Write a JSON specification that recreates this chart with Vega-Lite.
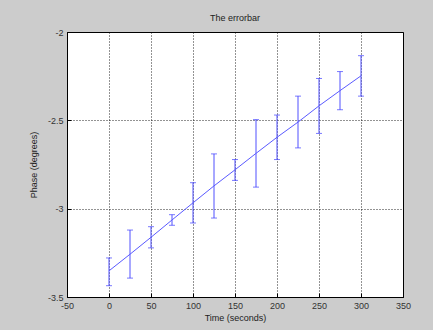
{
  "$schema": "https://vega.github.io/schema/vega-lite/v6.json",
  "autosize": "none",
  "width": 336,
  "height": 265,
  "padding": {"left": 67, "top": 32, "right": 30, "bottom": 33},
  "background": "#cccccc",
  "title": {"text": "The errorbar", "fontSize": 9, "fontWeight": "normal", "font": "Liberation Sans", "color": "#222222", "offset": 5},
  "data": {"values": [
    {"t": 0, "y": -3.352, "lo": -3.436, "hi": -3.279},
    {"t": 25, "y": -3.258, "lo": -3.393, "hi": -3.121},
    {"t": 50, "y": -3.162, "lo": -3.222, "hi": -3.102},
    {"t": 75, "y": -3.064, "lo": -3.094, "hi": -3.034},
    {"t": 100, "y": -2.967, "lo": -3.081, "hi": -2.853},
    {"t": 125, "y": -2.871, "lo": -3.053, "hi": -2.690},
    {"t": 150, "y": -2.780, "lo": -2.840, "hi": -2.722},
    {"t": 175, "y": -2.687, "lo": -2.878, "hi": -2.496},
    {"t": 200, "y": -2.596, "lo": -2.722, "hi": -2.470},
    {"t": 225, "y": -2.510, "lo": -2.656, "hi": -2.363},
    {"t": 250, "y": -2.418, "lo": -2.574, "hi": -2.263},
    {"t": 275, "y": -2.332, "lo": -2.440, "hi": -2.224},
    {"t": 300, "y": -2.248, "lo": -2.363, "hi": -2.134}
  ]},
  "encoding": {
    "x": {"field": "t", "type": "quantitative",
      "scale": {"domain": [-50, 350], "nice": false, "zero": false},
      "axis": {"title": "Time (seconds)", "values": [-50, 0, 50, 100, 150, 200, 250, 300, 350], "labelExpr": "replace(datum.label, '−', '-')"}}
  },
  "layer": [
    {
      "mark": {"type": "rule", "color": "#5050ff", "strokeWidth": 1},
      "encoding": {
        "y": {"field": "lo", "type": "quantitative",
          "scale": {"domain": [-3.5, -2], "nice": false, "zero": false},
          "axis": {"title": "Phase (degrees)", "values": [-3.5, -3, -2.5, -2], "format": "~g", "labelExpr": "replace(datum.label, '−', '-')"}},
        "y2": {"field": "hi"}
      }
    },
    {
      "mark": {"type": "tick", "orient": "horizontal", "color": "#4040ff", "size": 6, "thickness": 1},
      "encoding": {"y": {"field": "lo", "type": "quantitative"}}
    },
    {
      "mark": {"type": "tick", "orient": "horizontal", "color": "#4040ff", "size": 6, "thickness": 1},
      "encoding": {"y": {"field": "hi", "type": "quantitative"}}
    },
    {
      "mark": {"type": "line", "color": "#5a5aff", "strokeWidth": 1},
      "encoding": {"y": {"field": "y", "type": "quantitative"}}
    }
  ],
  "config": {
    "view": {"fill": "white", "stroke": "#000000", "strokeWidth": 1},
    "axis": {
      "labelFont": "Liberation Sans", "labelFontSize": 9, "labelColor": "#333333",
      "titleFont": "Liberation Sans", "titleFontSize": 9, "titleFontWeight": "normal", "titleColor": "#222222",
      "domainColor": "#000000", "tickColor": "#000000", "tickSize": -4, "tickWidth": 1,
      "grid": true, "gridColor": "#000000", "gridDash": [1, 2], "gridOpacity": 0.85, "gridWidth": 1,
      "labelPadding": 8, "labelOverlap": false, "labelFlush": false
    },
    "axisX": {"titlePadding": 3},
    "axisY": {"titlePadding": 9}
  }
}
